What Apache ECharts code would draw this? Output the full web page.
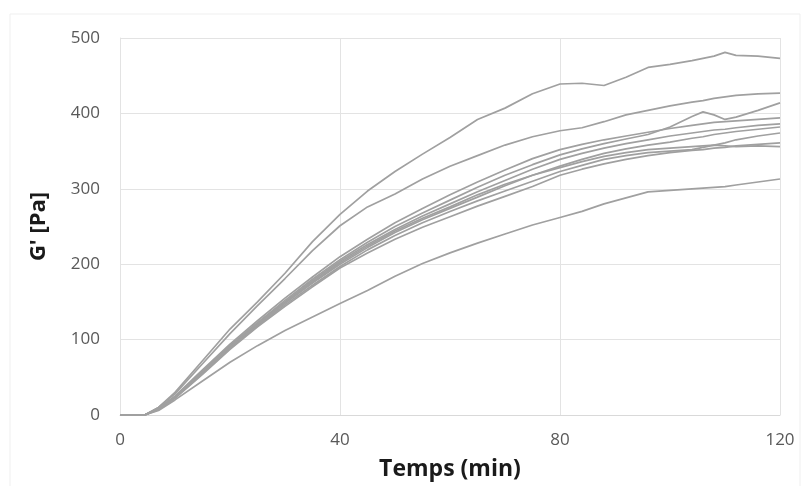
<!DOCTYPE html>
<html>
<head>
<meta charset="utf-8">
<script src="https://cdn.jsdelivr.net/npm/echarts@6/dist/echarts.min.js"></script>
<style>
  html, body { margin: 0; padding: 0; background: #fff; }
  #chart { width: 803px; height: 486px; }
</style>
</head>
<body>
<div id="chart"></div>
<script>
const times = [0,4.5,7,10,15,20,25,30,35,40,45,50,55,60,65,70,75,80,84,88,92,96,100,104,106,108,110,112,116,120];

const sampleA = [0,0,10,30,72,114,150,188,230,266,297,323,346,368,392,407,426,439,440,437,448,461,465,470,473,476,481,477,476,473];
const sampleB = [0,0,10,28,68,108,145,181,218,251,276,293,313,330,344,358,369,377,381,389,398,404,410,415,417,420,422,424,426,427];
const sampleC = [0,0,8,24,58,92,122,152,180,206,229,250,268,285,302,318,332,345,353,360,366,372,382,396,402,398,392,395,404,414];
const sampleD = [0,0,9,25,60,94,125,155,183,210,233,255,274,292,309,325,340,352,359,365,370,375,380,384,386,388,389,390,392,394];
const sampleE = [0,0,8,24,58,92,122,150,178,204,226,246,264,280,296,311,326,339,347,354,360,365,370,374,376,378,379,381,384,386];
const sampleF = [0,0,8,23,56,90,120,148,175,200,222,242,259,274,289,304,318,330,339,347,353,358,362,367,369,372,374,376,379,382];
const sampleG = [0,0,8,23,55,88,118,146,172,197,219,238,255,270,284,297,310,323,331,339,344,348,350,352,355,358,361,365,370,374];
const sampleH = [0,0,7,22,54,87,117,144,170,195,215,233,249,263,277,290,303,318,326,333,339,344,348,351,352,354,355,357,359,361];
const sampleI = [0,0,8,24,57,90,120,149,176,202,224,244,261,276,292,306,318,328,336,343,348,352,354,356,357,358,357,356,357,356];
const sampleJ = [0,0,6,20,45,70,92,112,130,148,165,184,201,215,228,240,252,262,270,280,288,296,298,300,301,302,303,305,309,313];

const allSamples = [sampleA, sampleB, sampleC, sampleD, sampleE, sampleF, sampleG, sampleH, sampleI, sampleJ];

const xTicks = [0, 40, 80, 120];
const yTicks = [0, 100, 200, 300, 400, 500];

const xTitle = 'Temps (min)';
const yTitle = "G' [Pa]";

const chart = echarts.init(document.getElementById('chart'), null, { renderer: 'canvas' });

const series = allSamples.map((vals, i) => ({
  type: 'line',
  name: 'S' + (i + 1),
  data: times.map((t, k) => [t, vals[k]]),
  showSymbol: false,
  symbol: 'none',
  smooth: false,
  lineStyle: { color: '#a0a0a0', width: 1.7 },
  emphasis: { disabled: true },
  z: 3
}));

const font = "'Open Sans', 'Noto Sans', sans-serif";

chart.setOption({
  animation: false,
  backgroundColor: '#ffffff',
  graphic: [{
    type: 'rect',
    shape: { x: 10, y: 14, width: 790, height: 480 },
    style: { fill: 'none', stroke: '#efefef', lineWidth: 1 },
    silent: true, z: 0
  }],
  grid: { left: 120, right: 23, top: 38, bottom: 70, containLabel: false },
  xAxis: {
    type: 'value',
    min: xTicks[0],
    max: xTicks[xTicks.length - 1],
    interval: 40,
    name: xTitle,
    nameLocation: 'middle',
    nameGap: 43,
    nameTextStyle: { fontFamily: font, fontSize: 23, fontWeight: 'bold', color: '#1a1a1a' },
    axisLine: { show: true, lineStyle: { color: '#d9d9d9', width: 1 } },
    axisTick: { show: false },
    axisLabel: { fontFamily: font, fontSize: 17, color: '#595959', margin: 17 },
    splitLine: { show: true, lineStyle: { color: '#e3e3e3', width: 1 } }
  },
  yAxis: {
    type: 'value',
    min: yTicks[0],
    max: yTicks[yTicks.length - 1],
    interval: 100,
    name: yTitle,
    nameLocation: 'middle',
    nameGap: 70,
    nameRotate: 90,
    nameTextStyle: { fontFamily: font, fontSize: 22, fontWeight: 'bold', color: '#1a1a1a' },
    axisLine: { show: true, lineStyle: { color: '#e3e3e3', width: 1 } },
    axisTick: { show: false },
    axisLabel: { fontFamily: font, fontSize: 17, color: '#595959', margin: 20 },
    splitLine: { show: true, lineStyle: { color: '#e3e3e3', width: 1 } }
  },
  series: series
});
</script>
</body>
</html>
